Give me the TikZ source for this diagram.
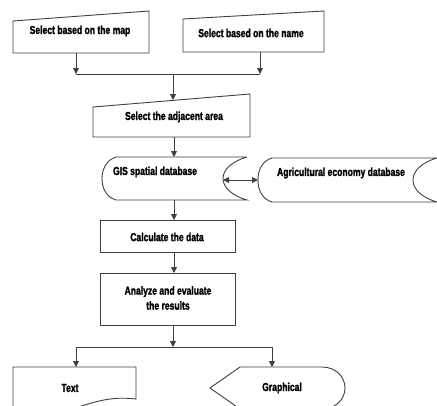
\documentclass[tikz,border=0pt]{standalone}
\usepackage{fontspec}
\newfontfamily\heavy{Liberation Sans}[FakeStretch=0.74, FakeBold=1.6]
\usetikzlibrary{arrows.meta}
\begin{document}
\begin{tikzpicture}[x=1pt,y=-1pt,
  outline/.style={draw=black!75, line width=0.9pt},
  txt/.style={font=\heavy\bfseries\fontsize{11.6}{15}\selectfont, inner sep=0pt, align=center, text=black},
  arr/.style={draw=black!75, line width=0.9pt, -{Triangle[width=6pt,length=6pt]}},
  dbl/.style={draw=black!75, line width=0.9pt, {Triangle[width=6pt,length=6pt]}-{Triangle[width=6pt,length=6pt]}},
  ln/.style={draw=black!75, line width=0.9pt}]
\useasboundingbox (0,0) rectangle (437,405);
\fill[white] (0,0) rectangle (437,405);
\begin{scope}
\clip (0,0) rectangle (437,405);
% shapes
\draw[outline] (13,53) -- (13,21) -- (149,11) -- (149,53) -- cycle;
\draw[outline] (183,52) -- (183,19) -- (324,11) -- (324,52) -- cycle;
\draw[outline] (93,137) -- (93,107) -- (250,94) -- (250,137) -- cycle;
\draw[outline] (247,157) -- (116,157) .. controls (106,160) and (102,170) .. (102,178.5)
   .. controls (102,188) and (106,197) .. (116,200) -- (247,200)
   .. controls (233,196) and (223,188) .. (223,178.5) .. controls (223,169) and (233,161) .. (247,157);
\draw[outline] (437,158) -- (272,158) .. controls (262,161) and (258,170) .. (258,180)
   .. controls (258,190) and (262,199) .. (272,202) -- (437,202)
   .. controls (423,198) and (413,190) .. (413,180) .. controls (413,170) and (423,162) .. (437,158);
\draw[outline] (100,220) rectangle (235,252);
\draw[outline] (100,273) rectangle (235,325);
\draw[outline] (13,415) -- (13,367) -- (136,367) -- (136,399)
   .. controls (110,396) and (95,402) .. (75,408) .. controls (55,414) and (30,414) .. (13,410);
\draw[outline] (210,388) -- (240,367) -- (322,367) .. controls (336,367) and (345,377) .. (345,388)
   .. controls (345,399) and (336,409) .. (322,409) -- (240,409) -- cycle;
\end{scope}
% texts
\node[txt] (map) at (80,31) {Select based on the map};
\node[txt] (name) at (251,33) {Select based on the name};
\node[txt] (adj) at (174,117) {Select the adjacent area};
\node[txt] (gis) at (155,172) {GIS spatial database};
\node[txt] (agr) at (341,173) {Agricultural economy database};
\node[txt] (calc) at (167,237) {Calculate the data};
\node[txt] (ana) at (168,298) {Analyze and evaluate\\the results};
\node[txt] (text) at (70,388) {Text};
\node[txt] (graph) at (282,388) {Graphical};
% connector anchors
\coordinate (mapS) at (76,53);
\coordinate (nameS) at (260,52);
\coordinate (jL) at (76,74);
\coordinate (jR) at (260,74);
\coordinate (jM) at (173,74);
\coordinate (adjN) at (173,100);
\coordinate (adjS) at (174,137);
\coordinate (gisN) at (174,157);
\coordinate (gisE) at (223,180);
\coordinate (agrW) at (258,180);
\coordinate (gisS) at (174,200);
\coordinate (calcN) at (174,220);
\coordinate (calcS) at (174,252);
\coordinate (anaN) at (174,273);
\coordinate (anaS) at (173,325);
\coordinate (kM) at (173,347);
\coordinate (kL) at (76,347);
\coordinate (kR) at (272,347);
\coordinate (textN) at (76,367);
\coordinate (graphN) at (272,367);
% connectors
\draw[arr] (mapS) -- (jL);
\draw[arr] (nameS) -- (jR);
\draw[ln] (jL) -- (jR);
\draw[arr] (jM) -- (adjN);
\draw[arr] (adjS) -- (gisN);
\draw[dbl] (gisE) -- (agrW);
\draw[arr] (gisS) -- (calcN);
\draw[arr] (calcS) -- (anaN);
\draw[arr] (anaS) -- (kM);
\draw[ln] (kL) -- (kR);
\draw[arr] (kL) -- (textN);
\draw[arr] (kR) -- (graphN);
\end{tikzpicture}
\end{document}
